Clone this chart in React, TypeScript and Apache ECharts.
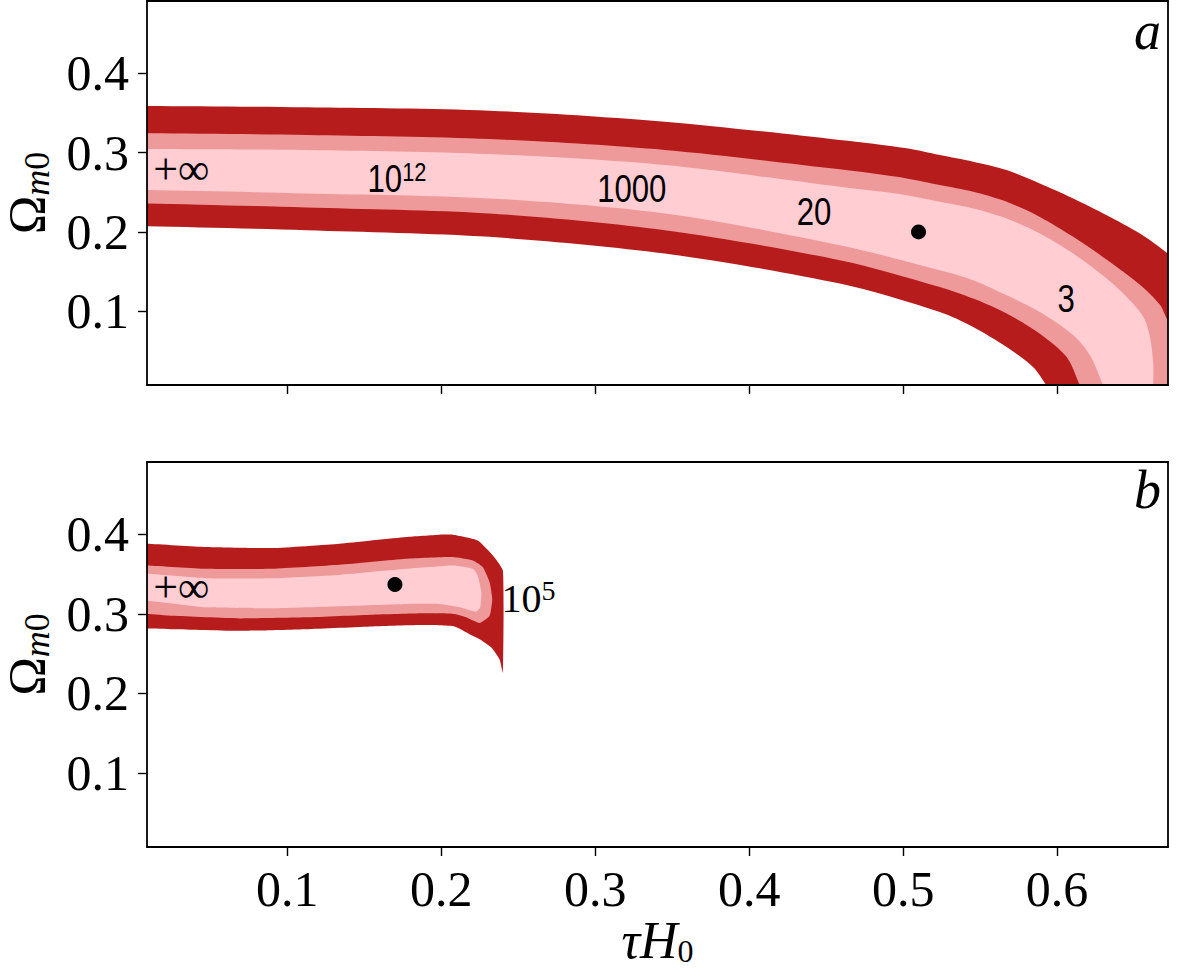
import React, { useEffect, useRef } from "react";
import * as echarts from "echarts";

// ---------- axes ----------
const X_TICKS = [0.1, 0.2, 0.3, 0.4, 0.5, 0.6];
const Y_TICKS = [0.1, 0.2, 0.3, 0.4];
const X_MIN = 0.009;
const X_MAX = 0.672;
const Y_MIN = 0.007;
const Y_MAX = 0.491;

// ---------- panel a: contour regions (tau*H0, Omega_m0); edge points run past the frame and are clipped ----------
const aOuter = [
  [-0.02, 0.359], [0.009, 0.3587], [0.1125, 0.3571], [0.2314, 0.3528], [0.3452, 0.3389], [0.4589, 0.3158],
  [0.5024, 0.3053], [0.5238, 0.2968], [0.5455, 0.2884], [0.5672, 0.2779], [0.5888, 0.2611],
  [0.6105, 0.2422], [0.6322, 0.2211], [0.6538, 0.198], [0.6718, 0.1727], [0.69, 0.14],
  [0.7, -0.03], [0.607, -0.03], [0.5932, 0.0064], [0.5845, 0.0295], [0.5672, 0.0548],
  [0.5455, 0.0801], [0.5238, 0.099], [0.4589, 0.1348], [0.3452, 0.1727],
  [0.2314, 0.1937], [0.1125, 0.2021], [0.009, 0.2072], [-0.02, 0.2075],
];
const aMiddle = [
  [-0.02, 0.3244], [0.009, 0.3242], [0.1125, 0.3221], [0.2314, 0.317], [0.3452, 0.3032], [0.4589, 0.2788],
  [0.5024, 0.2674], [0.5238, 0.259], [0.5455, 0.2505], [0.5672, 0.2379], [0.5888, 0.2189],
  [0.6105, 0.1937], [0.6322, 0.165], [0.6538, 0.1335], [0.6668, 0.108], [0.6718, 0.0885],
  [0.69, 0.04], [0.7, -0.03], [0.6235, -0.03], [0.6148, 0.0064], [0.6062, 0.0422],
  [0.5888, 0.0717], [0.5672, 0.097], [0.5455, 0.1159], [0.5238, 0.1306],
  [0.4589, 0.1643], [0.3452, 0.2021], [0.2314, 0.2232], [0.1125, 0.2308], [0.009, 0.2359], [-0.02, 0.2362],
];
const aInner = [
  [-0.02, 0.3046], [0.009, 0.3044], [0.1125, 0.3032], [0.2314, 0.2981], [0.3452, 0.2842], [0.4589, 0.2568],
  [0.5024, 0.2463], [0.5238, 0.2379], [0.5455, 0.2295], [0.5672, 0.2169], [0.5888, 0.198],
  [0.6105, 0.1727], [0.6322, 0.1412], [0.6452, 0.1179], [0.656, 0.0927], [0.6603, 0.0674],
  [0.6624, 0.0338], [0.6624, 0.0064], [0.6626, -0.03], [0.6385, -0.03], [0.63, 0.0064],
  [0.6213, 0.0444], [0.6105, 0.0696], [0.5888, 0.099], [0.5672, 0.1201], [0.5455, 0.139],
  [0.5238, 0.1516], [0.4589, 0.1832], [0.3452, 0.2232], [0.2314, 0.2422],
  [0.1125, 0.2485], [0.009, 0.2527], [-0.02, 0.253],
];
const aBest = [[0.51, 0.2]];
const aLabels = [
  { text: "+∞", sup: "", math: true, x: 0.0313, y: 0.2804 },
  { text: "10", sup: "12", math: false, x: 0.1713, y: 0.2681 },
  { text: "1000", sup: "", math: false, x: 0.3238, y: 0.2552 },
  { text: "20", sup: "", math: false, x: 0.4421, y: 0.2261 },
  { text: "3", sup: "", math: false, x: 0.6058, y: 0.1163 },
];

// ---------- panel b ----------
const bOuter = [
  [-0.02, 0.3886], [0.009, 0.3883], [0.0474, 0.3841], [0.0906, 0.3828], [0.134, 0.3883], [0.1773, 0.3967],
  [0.199, 0.3996], [0.2076, 0.3996], [0.2238, 0.3924], [0.2336, 0.3735], [0.2401, 0.3545],
  [0.2401, 0.2263], [0.2379, 0.2431], [0.2326, 0.2578], [0.225, 0.2683], [0.2185, 0.2746],
  [0.2087, 0.2843], [0.1881, 0.286], [0.1556, 0.2843], [0.1123, 0.2809], [0.069, 0.2788],
  [0.0257, 0.2809], [0.009, 0.2818], [-0.02, 0.282],
];
const bMiddle = [
  [-0.02, 0.3612], [0.009, 0.3609], [0.0474, 0.3567], [0.0906, 0.3567], [0.134, 0.3617], [0.1773, 0.3693],
  [0.2076, 0.3715], [0.2206, 0.3672], [0.2271, 0.3588], [0.2315, 0.3399], [0.2332, 0.3188],
  [0.2315, 0.2977], [0.225, 0.2885], [0.2163, 0.2957], [0.2087, 0.2999], [0.1881, 0.3008],
  [0.1556, 0.299], [0.1123, 0.2957], [0.069, 0.2944], [0.0257, 0.2977], [0.009, 0.2999], [-0.02, 0.3001],
];
const bInner = [
  [-0.02, 0.3507], [0.009, 0.3504], [0.0474, 0.3449], [0.0906, 0.3449], [0.134, 0.3491], [0.1773, 0.3567],
  [0.2076, 0.3609], [0.2206, 0.3567], [0.2238, 0.3482], [0.2261, 0.3273], [0.2254, 0.3083],
  [0.2228, 0.3028], [0.212, 0.3083], [0.199, 0.3125], [0.1773, 0.3125], [0.134, 0.3096],
  [0.0906, 0.3071], [0.0474, 0.3083], [0.009, 0.3167], [-0.02, 0.317],
];
const bBest = [[0.17, 0.337]];
const bLabels = [
  { text: "+∞", sup: "", math: true, x: 0.0313, y: 0.334 },
  { text: "10", sup: "5", math: true, x: 0.2568, y: 0.3201 },
];

const PANEL_NAMES = ["a", "b"];

// ---------- styles ----------
const SERIF = '"Liberation Serif", "DejaVu Serif", serif';
const SANS = '"Liberation Sans", "DejaVu Sans", sans-serif';
const DARK = "#b71c1c";
const MID = "#ef9a9a";
const LIGHT = "#ffcdd2";

function polySeries(points: number[][], color: string, idx: number, smooth: number) {
  return {
    type: "custom",
    xAxisIndex: idx,
    yAxisIndex: idx,
    silent: true,
    clip: true,
    data: [points[1]],
    renderItem: (params: any, api: any) => {
      const cs = params.coordSys;
      return {
        type: "polygon",
        shape: { points: points.map((pt) => api.coord(pt)), smooth },
        style: { fill: color, stroke: null },
        clipPath: { type: "rect", shape: { x: cs.x, y: cs.y, width: cs.width, height: cs.height } },
      };
    },
  };
}

function labelSeries(labels: any[], idx: number) {
  return {
    type: "custom",
    xAxisIndex: idx,
    yAxisIndex: idx,
    silent: true,
    z: 20,
    data: labels.map((l) => [l.x, l.y]),
    renderItem: (params: any, api: any) => {
      const l = labels[params.dataIndex];
      const p = api.coord([api.value(0), api.value(1)]);
      const size = l.math ? (l.sup ? 40 : 44) : 38;
      const fam = l.math ? SERIF : SANS;
      return {
        type: "text",
        x: p[0],
        y: p[1],
        scaleX: l.math ? 1 : 0.82,
        style: {
          text: l.sup ? `{b|${l.text}}{p|${l.sup}}` : `{b|${l.text}}`,
          align: "center",
          verticalAlign: "middle",
          fill: "#000",
          rich: {
            b: { fontFamily: fam, fontSize: size, lineHeight: size * 1.05, verticalAlign: "bottom", fill: "#000" },
            p: { fontFamily: fam, fontSize: size * 0.7, lineHeight: size * 0.62, verticalAlign: "top", fill: "#000" },
          },
        },
      };
    },
  };
}

function dotSeries(pts: number[][], idx: number) {
  return {
    type: "scatter",
    xAxisIndex: idx,
    yAxisIndex: idx,
    silent: true,
    z: 15,
    symbol: "circle",
    symbolSize: 15,
    itemStyle: { color: "#000", opacity: 1 },
    data: pts,
  };
}

const lineStyle = { color: "#000", width: 1.8 };

function mainX(gridIndex: number, showLabels: boolean) {
  return {
    type: "value",
    gridIndex,
    min: X_MIN,
    max: X_MAX,
    z: 10,
    position: "bottom",
    axisLine: { show: true, onZero: false, lineStyle },
    axisTick: { show: true, length: 9, customValues: X_TICKS, lineStyle: { color: "#000", width: 1.4 } },
    axisLabel: {
      show: showLabels,
      customValues: X_TICKS,
      margin: 17,
      fontFamily: SERIF,
      fontSize: 50,
      color: "#000",
      formatter: (v: number) => v.toFixed(1),
    },
    splitLine: { show: false },
    name: showLabels ? "{t|τH}{s|0}" : "",
    nameLocation: "middle",
    nameGap: 70,
    nameTextStyle: {
      color: "#000",
      rich: {
        t: { fontFamily: SERIF, fontStyle: "italic", fontSize: 52, lineHeight: 46, verticalAlign: "middle", color: "#000" },
        s: { fontFamily: SERIF, fontSize: 32, lineHeight: 30, padding: [20, 0, 0, 0], verticalAlign: "middle", color: "#000" },
      },
    },
  };
}

function frameX(gridIndex: number) {
  return {
    type: "value",
    gridIndex,
    min: X_MIN,
    max: X_MAX,
    z: 10,
    position: "top",
    axisLine: { show: true, onZero: false, lineStyle },
    axisTick: { show: false },
    axisLabel: { show: false },
    splitLine: { show: false },
  };
}

function mainY(gridIndex: number) {
  return {
    type: "value",
    gridIndex,
    min: Y_MIN,
    max: Y_MAX,
    z: 10,
    position: "left",
    axisLine: { show: true, onZero: false, lineStyle },
    axisTick: { show: true, length: 9, customValues: Y_TICKS, lineStyle: { color: "#000", width: 1.4 } },
    axisLabel: {
      show: true,
      customValues: Y_TICKS,
      margin: 18,
      fontFamily: SERIF,
      fontSize: 50,
      color: "#000",
      formatter: (v: number) => v.toFixed(1),
    },
    splitLine: { show: false },
    name: "{o|Ω}{m|m}{z|0}",
    nameLocation: "middle",
    nameGap: 92,
    nameTextStyle: {
      color: "#000",
      rich: {
        o: { fontFamily: SERIF, fontSize: 52, lineHeight: 56, verticalAlign: "middle", color: "#000" },
        m: { fontFamily: SERIF, fontStyle: "italic", fontSize: 36, lineHeight: 32, verticalAlign: "bottom", color: "#000" },
        z: { fontFamily: SERIF, fontSize: 36, lineHeight: 32, verticalAlign: "bottom", color: "#000" },
      },
    },
  };
}

function frameY(gridIndex: number) {
  return {
    type: "value",
    gridIndex,
    min: Y_MIN,
    max: Y_MAX,
    z: 10,
    position: "right",
    axisLine: { show: true, onZero: false, lineStyle },
    axisTick: { show: false },
    axisLabel: { show: false },
    splitLine: { show: false },
  };
}

export default function App() {
  const ref = useRef<HTMLDivElement>(null);
  useEffect(() => {
    document.body.style.margin = "0";
    if (!ref.current) return;
    const chart = echarts.init(ref.current, null, { renderer: "svg" });
    chart.setOption({
      animation: false,
      backgroundColor: "#fff",
      grid: [
        { left: 147, top: 1, width: 1021, height: 384, show: false, containLabel: false, outerBoundsMode: "none" },
        { left: 147, top: 462, width: 1021, height: 385, show: false, containLabel: false, outerBoundsMode: "none" },
      ],
      xAxis: [mainX(0, false), frameX(0), mainX(1, true), frameX(1)],
      yAxis: [mainY(0), frameY(0), mainY(1), frameY(1)],
      graphic: [
        {
          type: "text",
          right: 16,
          top: 4,
          style: { text: PANEL_NAMES[0], fontFamily: SERIF, fontStyle: "italic", fontSize: 54, fill: "#000" },
        },
        {
          type: "text",
          right: 16,
          top: 463,
          style: { text: PANEL_NAMES[1], fontFamily: SERIF, fontStyle: "italic", fontSize: 54, fill: "#000" },
        },
      ],
      series: [
        polySeries(aOuter, DARK, 0, 0.3),
        polySeries(aMiddle, MID, 0, 0.3),
        polySeries(aInner, LIGHT, 0, 0.3),
        dotSeries(aBest, 0),
        labelSeries(aLabels, 0),
        polySeries(bOuter, DARK, 2, 0.15),
        polySeries(bMiddle, MID, 2, 0.15),
        polySeries(bInner, LIGHT, 2, 0.15),
        dotSeries(bBest, 2),
        labelSeries(bLabels, 2),
      ],
    });
    return () => chart.dispose();
  }, []);
  return <div ref={ref} style={{ width: 1177, height: 971 }} />;
}
